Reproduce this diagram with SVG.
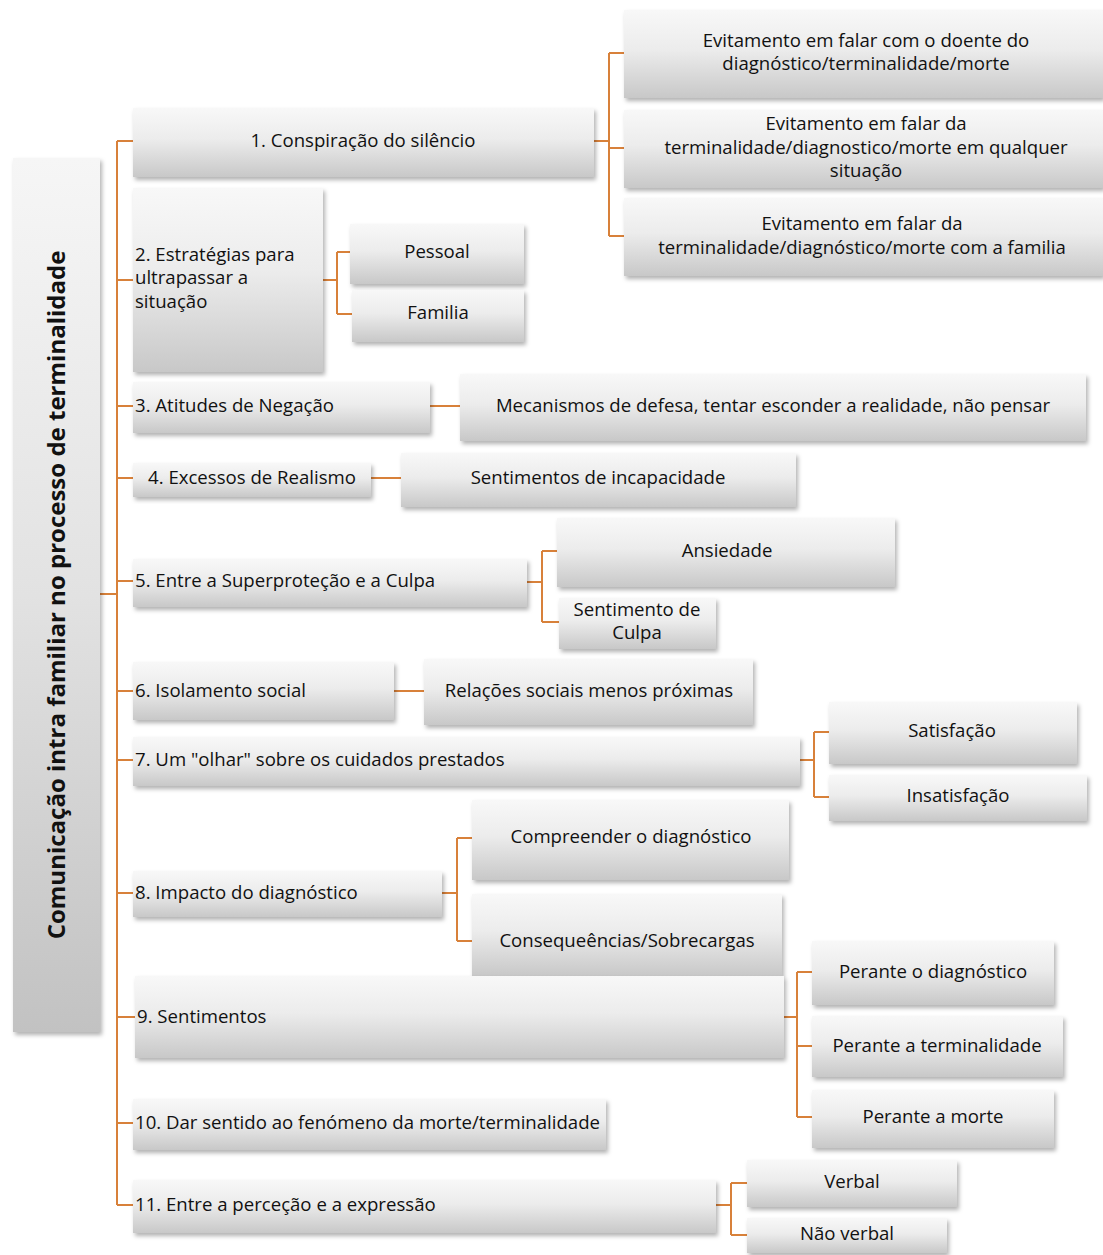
<svg xmlns="http://www.w3.org/2000/svg" width="1103" height="1255" viewBox="0 0 1103 1255">
<defs>
<linearGradient id="g" x1="0" y1="0" x2="0" y2="1">
<stop offset="0" stop-color="#f8f8f8"/>
<stop offset="0.45" stop-color="#ececec"/>
<stop offset="1" stop-color="#c8c8c8"/>
</linearGradient>
<linearGradient id="gr" x1="0" y1="0" x2="0" y2="1">
<stop offset="0" stop-color="#f6f6f6"/>
<stop offset="0.5" stop-color="#e2e2e2"/>
<stop offset="1" stop-color="#c2c2c2"/>
</linearGradient>
<filter id="sh" x="-5%" y="-10%" width="115%" height="130%">
<feDropShadow dx="2" dy="3" stdDeviation="2" flood-color="#000" flood-opacity="0.3"/>
</filter>
</defs>
<style>
.b{fill:url(#g);filter:url(#sh)}
.r{fill:url(#gr);filter:url(#sh)}
text{font-family:"Open Sans","Noto Sans","Liberation Sans",sans-serif;font-size:18.6px;fill:#111}
.c{text-anchor:middle}
.rt{font-weight:bold;font-size:24px;text-anchor:middle}
#conn path{fill:none;stroke:#d8813a;stroke-width:2}
</style>
<rect width="1103" height="1255" fill="#fff"/>
<g id="conn">
<path d="M100 594H117M117 141V1205M117 141H133M117 280H133M117 406H133M117 478H133M117 581H133M117 691H133M117 760H133M117 893H133M117 1017H135M117 1123H133M117 1205H133"/>
<path d="M594 141H609M609 53V236M609 53H624M609 148H624M609 236H624"/>
<path d="M323 280H337M337 252V314M337 252H350M337 314H352"/>
<path d="M430 406H460"/>
<path d="M371 478H401"/>
<path d="M527 582H542M542 551V622M542 551H557M542 622H559"/>
<path d="M394 691H424"/>
<path d="M800 760H814M814 732V797M814 732H829M814 797H829"/>
<path d="M442 893H457M457 838V941M457 838H472M457 941H472"/>
<path d="M784 1017H797M797 972V1117M797 972H812M797 1046H812M797 1117H812"/>
<path d="M716 1205H731M731 1183V1235M731 1183H747M731 1235H747"/>
</g>
<g id="root"><rect class="r" x="13" y="158" width="87" height="874"/><text class="rt" transform="translate(65 595) rotate(-90)">Comunicação intra familiar no processo de terminalidade</text></g>
<g id="n1"><rect class="b" x="133" y="108" width="461" height="69"/><text class="c" x="363" y="147">1. Conspiração do silêncio</text></g>
<g id="n1a"><rect class="b" x="624" y="10" width="479" height="88"/><text class="c" x="866" y="47">Evitamento em falar com o doente do</text><text class="c" x="866" y="70">diagnóstico/terminalidade/morte</text></g>
<g id="n1b"><rect class="b" x="624" y="110" width="479" height="78"/><text class="c" x="866" y="130">Evitamento em falar da</text><text class="c" x="866" y="154">terminalidade/diagnostico/morte em qualquer</text><text class="c" x="866" y="177">situação</text></g>
<g id="n1c"><rect class="b" x="624" y="198" width="479" height="78"/><text class="c" x="862" y="230">Evitamento em falar da</text><text class="c" x="862" y="254">terminalidade/diagnóstico/morte com a familia</text></g>
<g id="n2"><rect class="b" x="133" y="188" width="190" height="184"/><text x="135" y="261">2. Estratégias para</text><text x="135" y="284">ultrapassar a</text><text x="135" y="308">situação</text></g>
<g id="n2a"><rect class="b" x="350" y="224" width="174" height="60"/><text class="c" x="437" y="258">Pessoal</text></g>
<g id="n2b"><rect class="b" x="352" y="290" width="172" height="52"/><text class="c" x="438" y="319">Familia</text></g>
<g id="n3"><rect class="b" x="133" y="382" width="297" height="51"/><text x="135" y="412">3. Atitudes de Negação</text></g>
<g id="n3a"><rect class="b" x="460" y="374" width="626" height="67"/><text class="c" x="773" y="412">Mecanismos de defesa, tentar esconder a realidade, não pensar</text></g>
<g id="n4"><rect class="b" x="133" y="463" width="238" height="34"/><text class="c" x="252" y="484">4. Excessos de Realismo</text></g>
<g id="n4a"><rect class="b" x="401" y="453" width="395" height="54"/><text class="c" x="598" y="484">Sentimentos de incapacidade</text></g>
<g id="n5"><rect class="b" x="133" y="559" width="394" height="48"/><text x="135" y="587">5. Entre a Superproteção e a Culpa</text></g>
<g id="n5a"><rect class="b" x="557" y="518" width="338" height="69"/><text class="c" x="727" y="557">Ansiedade</text></g>
<g id="n5b"><rect class="b" x="559" y="598" width="157" height="51"/><text class="c" x="637" y="616">Sentimento de</text><text class="c" x="637" y="639">Culpa</text></g>
<g id="n6"><rect class="b" x="133" y="662" width="261" height="58"/><text x="135" y="697">6. Isolamento social</text></g>
<g id="n6a"><rect class="b" x="424" y="659" width="329" height="66"/><text class="c" x="589" y="697">Relações sociais menos próximas</text></g>
<g id="n7"><rect class="b" x="133" y="737" width="667" height="49"/><text x="135" y="766">7. Um "olhar" sobre os cuidados prestados</text></g>
<g id="n7a"><rect class="b" x="829" y="702" width="248" height="62"/><text class="c" x="952" y="737">Satisfação</text></g>
<g id="n7b"><rect class="b" x="829" y="775" width="258" height="46"/><text class="c" x="958" y="802">Insatisfação</text></g>
<g id="n8"><rect class="b" x="133" y="871" width="309" height="46"/><text x="135" y="899">8. Impacto do diagnóstico</text></g>
<g id="n8a"><rect class="b" x="472" y="800" width="317" height="80"/><text class="c" x="631" y="843">Compreender o diagnóstico</text></g>
<g id="n8b"><rect class="b" x="472" y="894" width="310" height="82"/><text class="c" x="627" y="947">Consequeências/Sobrecargas</text></g>
<g id="n9"><rect class="b" x="135" y="976" width="649" height="82"/><text x="137" y="1023">9. Sentimentos</text></g>
<g id="n9a"><rect class="b" x="812" y="941" width="242" height="64"/><text class="c" x="933" y="978">Perante o diagnóstico</text></g>
<g id="n9b"><rect class="b" x="812" y="1016" width="251" height="61"/><text class="c" x="937" y="1052">Perante a terminalidade</text></g>
<g id="n9c"><rect class="b" x="812" y="1090" width="242" height="58"/><text class="c" x="933" y="1123">Perante a morte</text></g>
<g id="n10"><rect class="b" x="133" y="1099" width="473" height="51"/><text x="135" y="1129">10. Dar sentido ao fenómeno da morte/terminalidade</text></g>
<g id="n11"><rect class="b" x="133" y="1180" width="583" height="53"/><text x="135" y="1211">11. Entre a perceção e a expressão</text></g>
<g id="n11a"><rect class="b" x="747" y="1160" width="210" height="47"/><text class="c" x="852" y="1188">Verbal</text></g>
<g id="n11b"><rect class="b" x="747" y="1218" width="200" height="35"/><text class="c" x="847" y="1240">Não verbal</text></g>
</svg>
